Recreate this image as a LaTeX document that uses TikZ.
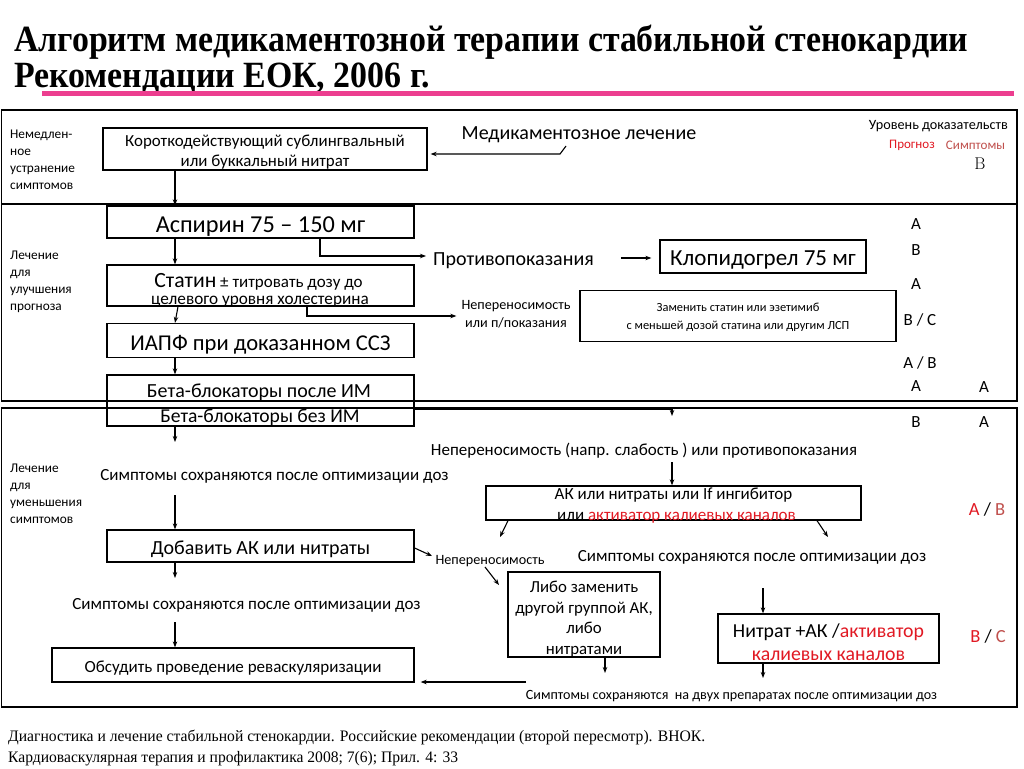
\documentclass[tikz,border=0pt]{standalone}
\usepackage{graphicx}
\usepackage{fontspec}
\setmainfont{Carlito}
\newfontfamily\serif{Liberation Serif}
\usetikzlibrary{arrows.meta,calc}
\definecolor{pinkline}{RGB}{236,62,143}
\definecolor{redA}{RGB}{225,25,35}
\definecolor{redB}{RGB}{192,80,77}
\newcommand\fs[1]{\fontsize{#1}{#1}\selectfont}
\newcommand\fsl[2]{\fontsize{#1}{#2}\selectfont}
\newcommand\dn[1]{\raisebox{-0.17em}[\height][\depth]{#1}}
\begin{document}
\begin{tikzpicture}[x=1pt,y=-1pt,
  box/.style={draw,line width=1.3pt,inner sep=0pt,align=center},
  txt/.style={inner sep=0pt,align=center},
  fsz/.style={font=\fs{#1}},
  arr/.style={-{Stealth[length=6pt,width=4.5pt]},line width=1.1pt},
  frame/.style={draw,line width=1.5pt},
  side/.style={inner sep=0pt,anchor=north west,align=left,font={\fsl{13.3}{17}}},
  ev/.style={inner sep=0pt,fsz=17}]
\useasboundingbox (0,0) rectangle (1024,768);
\fill[white] (0,0) rectangle (1024,768);
% title
\node[txt,anchor=base west] (title1) at (14,52) {\resizebox{954pt}{\height}{\serif\bfseries\fs{37}Алгоритм медикаментозной терапии стабильной стенокардии}};
\node[txt,anchor=base west] (title2) at (14,88) {\resizebox{416pt}{\height}{\serif\bfseries\fs{37}Рекомендации ЕОК, 2006 г.}};
\draw[pinkline,line width=5pt] (42,93) -- (1014,93);
% frames
\draw[frame] (1.5,110) rectangle (1017,204);
\draw[frame] (1.5,204) rectangle (1017,401);
\draw[frame] (1.5,408) rectangle (1017,707);
\coordinate (c1) at (175,0);
% section 1
\node[side] (lab1) at (10,129.5) {Немедлен-\\ное\\устранение\\симптомов};
\node[box,minimum width=324pt,minimum height=42pt] (b1) at (265,149) {};
\node[txt,font={\fsl{16.9}{20}}] (b1t) at ([yshift=-3pt]b1.center) {Короткодействующий сублингвальный\\или буккальный нитрат};
\node[txt,fsz=20] (med) at (579,131) {\dn{Медикаментозное лечение}};
\coordinate (medp) at (566,146);
\draw[arr] (medp) -- ++(-6,8) -- ([xshift=3pt]b1.east |- 0,154);
\node[txt,fsz=14.2,anchor=east] (lvl) at (1008,124) {\dn{Уровень доказательств}};
\node[txt,fsz=13] (prog) at (912,143) {\dn{\color{redA}Прогноз}};
\node[txt,fsz=13.1] (symp) at (975.5,143) {\dn{\color{redB}Симптомы}};
\node[txt,font={\fontfamily{lmr}\selectfont\fs{17}}] (evB0) at (980,164) {B};
% section 2
\node[side] (lab2) at (10,250.5) {Лечение\\для\\улучшения\\прогноза};
\node[box,fsz=24.3,minimum width=307pt,minimum height=32pt] (asp) at (260.5,222) {\dn{Аспирин 75 – 150 мг}};
\node[box,minimum width=307pt,minimum height=41pt] (stat) at (260.5,285.5) {};
\node[txt,fsz=17] (statt1) at (258.5,278.5) {\dn{{\fs{21.7}Статин} ± титровать дозу до}};
\node[txt,fsz=17.2] (statt2) at (260,302) {целевого уровня холестерина};
\node[box,fsz=22.6,minimum width=307pt,minimum height=34pt] (iapf) at (260.5,340.5) {\dn{ИАПФ при доказанном ССЗ}};
\node[box,minimum width=307pt,minimum height=51pt] (beta) at (260.5,400.5) {};
\node[txt,fsz=20] (beta1) at (259,389) {\dn{Бета-блокаторы после ИМ}};
\node[txt,fsz=19.6] (beta2) at (260,414.5) {\dn{Бета-блокаторы без ИМ}};
\node[txt,fsz=20] (contra) at (513.5,257) {\dn{Противопоказания}};
\node[box,fsz=23,minimum width=206pt,minimum height=33pt] (clop) at (763,256.5) {\dn{Клопидогрел 75 мг}};
\node[txt,font={\fsl{14.2}{18}}] (intol1) at (516,314) {Непереносимость\\или п/показания};
\node[box,minimum width=316pt,minimum height=51pt] (zam) at (738,316) {};
\node[txt,font={\fsl{12.4}{18}}] (zamt) at ([yshift=-1.5pt]zam.center) {Заменить статин или эзетимиб\\с меньшей дозой статина или другим ЛСП};
\draw[arr] (b1.south -| c1) -- (asp.north -| c1);
\draw[arr] (asp.south -| c1) -- (stat.north -| c1);
\draw[arr] (stat.south -| 178,0) -- (iapf.north -| c1);
\draw[arr] (iapf.south -| c1) -- (beta.north -| c1);
\draw[arr] (asp.south -| 320,0) |- ([xshift=-7pt]contra.west |- 0,256);
\draw[arr] ([xshift=27pt]contra.east |- 0,258) -- ([xshift=-8pt]clop.west |- 0,258);
\draw[arr] (stat.south -| 307,0) |- ([xshift=-5pt]intol1.west |- 0,316);
% evidence letters
\node[ev] (ev1) at (916,224) {A};
\node[ev] (ev2) at (916,250) {B};
\node[ev] (ev3) at (916,284) {A};
\node[ev] (ev4) at (920,317) {\dn{B / C}};
\node[ev] (ev5) at (920,360) {\dn{A / B}};
\node[ev] (ev6) at (916,386) {A};
\node[ev] (ev7) at (984,387) {A};
\node[ev] (ev8) at (916,422) {B};
\node[ev] (ev9) at (984,422) {A};
\node[ev,fsz=18.5] (ev10) at (987,506) {\dn{\textcolor{redA}{A} / \textcolor{redB}{B}}};
\node[ev,fsz=18.5] (ev11) at (988,633) {\dn{\textcolor{redA}{B} / \textcolor{redB}{C}}};
% section 3
\node[side] (lab3) at (10,464) {Лечение\\для\\уменьшения\\симптомов};
\node[txt,fsz=17] (symA) at (274.5,473) {\dn{Симптомы сохраняются после оптимизации доз}};
\node[box,fsz=20,minimum width=307pt,minimum height=32pt] (dob) at (260.5,546) {\dn{Добавить АК или нитраты}};
\node[txt,fsz=17] (symB) at (246.5,602) {\dn{Симптомы сохраняются после оптимизации доз}};
\node[box,fsz=17,minimum width=362pt,minimum height=34pt] (obs) at (233,665) {\dn{Обсудить проведение реваскуляризации}};
\coordinate (e1) at (175,442);
\coordinate (s1) at (175,495);
\coordinate (e2) at (175,578);
\coordinate (s2) at (175,622);
\draw[arr] (beta.south -| c1) -- (e1);
\draw[arr] (s1) -- (dob.north -| c1);
\draw[arr] (dob.south -| c1) -- (e2);
\draw[arr] (s2) -- (obs.north -| c1);
\node[txt,fsz=17] (intol2) at (644,448) {\dn{Непереносимость (напр. слабость ) или противопоказания}};
\coordinate (e3) at (672,416);
\draw[arr] (beta.east |- 0,409) -| (e3);
\node[box,minimum width=375pt,minimum height=34pt] (ak) at (673.5,503) {};
\node[txt,fsz=17] (ak1) at (673.5,492.5) {\dn{АК или нитраты или If ингибитор}};
\node[txt,fsz=17] (ak2) at (676.5,517.5) {или \textcolor{redA}{активатор калиевых каналов}};
\coordinate (s3) at (672,462);
\draw[arr] (s3) -- (ak.north -| s3);
\coordinate (e4) at (500,537);
\coordinate (e5) at (828,537);
\draw[arr] (ak.south -| 508,0) -- (e4);
\draw[arr] (ak.south -| 817,0) -- (e5);
\node[txt,fsz=17] (symC) at (752,554) {\dn{Симптомы сохраняются после оптимизации доз}};
\node[txt,fsz=14.2] (intol3) at (490,559) {\dn{Непереносимость}};
\coordinate (e6) at (432,556);
\draw[arr] (dob.east |- 0,548) -- (e6);
\node[box,minimum width=152pt,minimum height=85pt] (libo) at (584,614.5) {};
\node[txt,font={\fsl{16.8}{20.7}}] (libot) at ([yshift=-4.5pt]libo.center) {Либо заменить\\другой группой АК,\\либо\\нитратами};
\coordinate (s4) at (485,567);
\coordinate (e7) at (499,585);
\draw[arr] (s4) -- (e7);
\coordinate (e8) at (605,673);
\draw[arr] (libo.south -| e8) -- (e8);
\node[box,minimum width=221pt,minimum height=49pt] (nitr) at (828.5,638.5) {};
\node[txt,font={\fsl{19.8}{23}}] (nitrt) at ([yshift=-3.5pt]nitr.center) {Нитрат +АК /\textcolor{redA}{активатор}\\\textcolor{redA}{калиевых каналов}};
\coordinate (s5) at (763,588);
\draw[arr] (s5) -- (nitr.north -| s5);
\coordinate (e9) at (763,678);
\draw[arr] (nitr.south -| e9) -- (e9);
\node[txt,fsz=14.1] (symD) at (731.5,694) {\dn{Симптомы сохраняются\ \ на двух препаратах после оптимизации доз}};
\coordinate (s6) at (526,682);
\draw[arr] (s6) -- ([xshift=6pt]obs.east |- s6);
% footer
\node[txt,anchor=base west] (foot1) at (8,741) {\resizebox{697pt}{\height}{\serif\fs{16}Диагностика и лечение стабильной стенокардии. Российские рекомендации (второй пересмотр). ВНОК.}};
\node[txt,anchor=base west] (foot2) at (8,762) {\resizebox{450pt}{\height}{\serif\fs{16}Кардиоваскулярная терапия и профилактика 2008; 7(6); Прил. 4: 33}};
\end{tikzpicture}
\end{document}
